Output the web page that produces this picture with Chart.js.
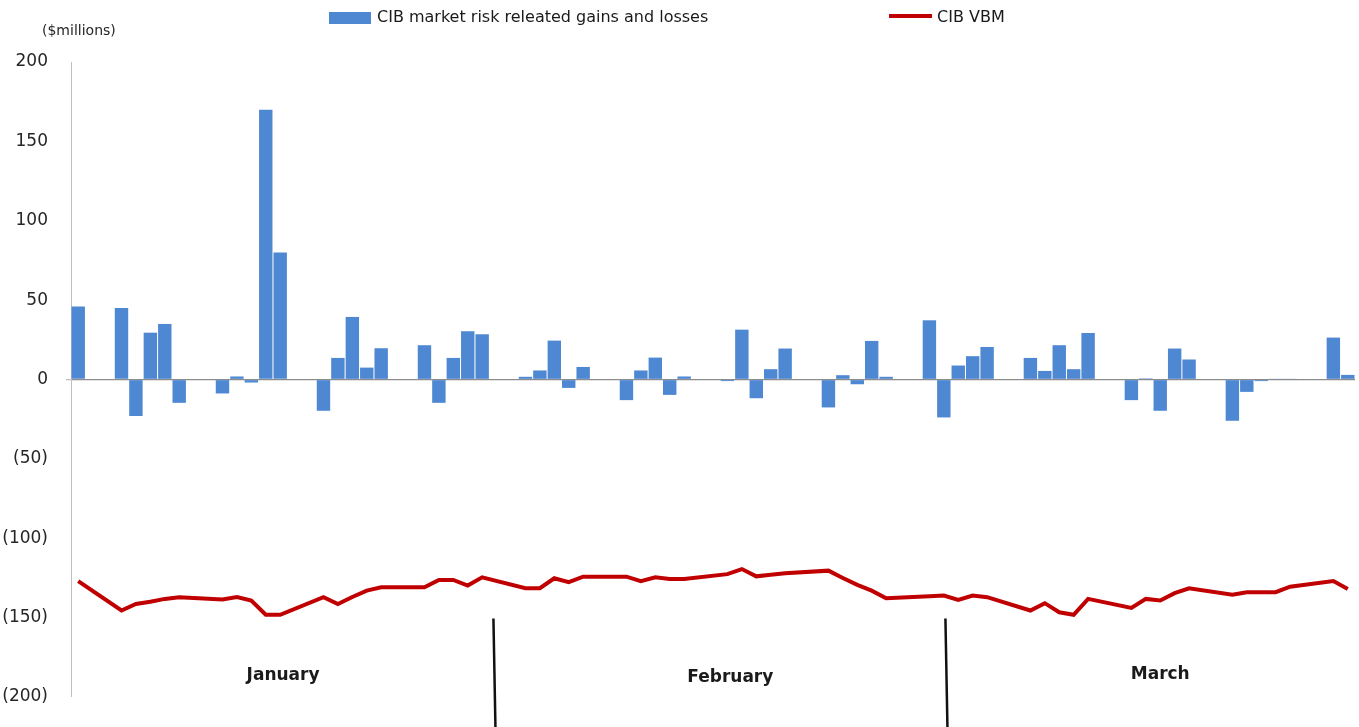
<!DOCTYPE html>
<html>
<head>
<meta charset="utf-8">
<script src="https://cdn.jsdelivr.net/npm/chart.js@4.4.1/dist/chart.umd.min.js"></script>
<style>
  html, body { margin: 0; padding: 0; background: #fff; }
  #wrap { width: 1359px; height: 727px; }
</style>
</head>
<body>
<div id="wrap"><canvas id="c" width="1359" height="727"></canvas></div>
<script>
// ---------- DATA ----------
const months = ['January', 'February', 'March'];
const monthDays = [31, 28, 30];
const categories = [];
months.forEach((m, i) => { for (let d = 1; d <= monthDays[i]; d++) categories.push(m.slice(0, 3) + ' ' + d); });

// CIB market risk related gains and losses ($ millions); null = non-trading day
const gainsLosses = [
  46,
  null, null, 45, -23, 29.5, 35, -14.7,
  null, null, -8.8, 1.9, -1.9, 170, 80,
  null, null, -19.7, 13.6, 39.4, 7.5, 19.7,
  null, null, 21.6, -14.7, 13.6, 30.4, 28.5,
  null, null, 1.7, 5.7, 24.5, -5.3, 7.9,
  null, null, -13, 5.7, 13.8, -9.7, 1.9,
  null, null, -1, 31.4, -11.8, 6.5, 19.5,
  null, null, -17.6, 2.7, -3, 24.3, 1.7,
  null, null, 37.3, -23.9, 8.8, 14.7, 20.5,
  null, null, 13.6, 5.4, 21.6, 6.5, 29.3,
  null, null, -13, 0.7, -19.7, 19.5, 12.6,
  null, null, -26, -7.8, -1, 0.5, 0.5,
  null, null, 26.4, 2.9
];

// CIB VBM ($ millions)
const vbm = [
  -127,
  null, null, -145.5, -141.4, -140, -138.2, -137.1,
  null, null, -138.6, -137.1, -139.2, -148.2, -148.2,
  null, null, -137.1, -141.4, -137, -133, -130.9,
  null, null, -130.9, -126.3, -126.3, -129.8, -124.6,
  null, null, -131.5, -131.5, -125.2, -127.7, -124.2,
  null, null, -124.2, -127, -124.6, -125.6, -125.6,
  null, null, -122.6, -119.4, -124, -123, -122,
  null, null, -120.4, -125, -129.4, -133, -137.8,
  null, null, -136.5, -136.1, -138.8, -136.1, -137.1,
  null, null, -145.5, -140.9, -146.6, -148.2, -138.2,
  null, null, -143.9, -138.2, -139.2, -134.6, -131.5,
  null, null, -135.5, -134, -134, -134, -130.5,
  null, null, -127, -131.9
];

const yTicks = [-200, -150, -100, -50, 0, 50, 100, 150, 200];
const unitLabel = '($millions)';

// ---------- STYLE ----------
const FONT = '"DejaVu Sans", "Liberation Sans", sans-serif';
const BAR_COLOR = '#4F88D2';
const LINE_COLOR = '#C00000';

const decorations = {
  id: 'decorations',
  afterDraw(chart, args, opts) {
    const { ctx, scales: { x, y } } = chart;
    ctx.save();
    // month dividers
    ctx.strokeStyle = '#111';
    ctx.lineWidth = 2.5;
    opts.dividers.forEach(d => {
      const px = x.getPixelForValue(d);
      ctx.beginPath();
      ctx.moveTo(px - 1, y.getPixelForValue(opts.dividerTop));
      ctx.lineTo(px + 1, chart.height);
      ctx.stroke();
    });
    // month labels
    ctx.fillStyle = '#1a1a1a';
    ctx.font = 'bold 17px ' + FONT;
    ctx.textAlign = 'center';
    ctx.textBaseline = 'middle';
    months.forEach((m, i) => {
      ctx.fillText(m, x.getPixelForValue(opts.monthCenters[i]), y.getPixelForValue(opts.monthLabelY[i]));
    });
    // unit label
    ctx.font = '14px ' + FONT;
    ctx.textAlign = 'left';
    ctx.fillStyle = '#262626';
    ctx.fillText(unitLabel, 42, 31);
    // legend
    const ds = chart.data.datasets;
    ctx.font = '16px ' + FONT;
    ctx.fillStyle = BAR_COLOR;
    ctx.fillRect(329, 12, 42, 12);
    ctx.fillStyle = '#1a1a1a';
    ctx.fillText(ds[1].label, 377, 18);
    ctx.strokeStyle = LINE_COLOR;
    ctx.lineWidth = 4;
    ctx.beginPath();
    ctx.moveTo(889, 16);
    ctx.lineTo(932, 16);
    ctx.stroke();
    ctx.fillText(ds[0].label, 937, 18);
    ctx.restore();
  }
};

new Chart(document.getElementById('c'), {
  data: {
    labels: categories,
    datasets: [
      {
        type: 'line',
        label: 'CIB VBM',
        data: vbm,
        borderColor: LINE_COLOR,
        borderWidth: 4,
        pointRadius: 0,
        tension: 0,
        spanGaps: true,
        order: 0
      },
      {
        type: 'bar',
        label: 'CIB market risk releated gains and losses',
        data: gainsLosses,
        backgroundColor: BAR_COLOR,
        categoryPercentage: 1.0,
        barPercentage: 0.93,
        order: 1
      }
    ]
  },
  options: {
    responsive: false,
    animation: false,
    layout: { padding: { left: 0, right: 4, top: 62, bottom: 30 } },
    plugins: {
      legend: { display: false },
      tooltip: { enabled: false },
      decorations: {
        dividers: [28.85, 60.18],
        dividerTop: -150.5,
        monthCenters: [14.2, 45.2, 75.0],
        monthLabelY: [-186.5, -187.5, -186]
      }
    },
    scales: {
      x: { display: false },
      y: {
        min: -200,
        max: 200,
        afterBuildTicks: s => { s.ticks = yTicks.map(v => ({ value: v })); },
        afterFit: s => { s.width = 71; },
        border: { display: true, color: '#BFBFBF', width: 1 },
        grid: {
          drawOnChartArea: true,
          color: c => (c.tick && c.tick.value === 0) ? '#8C8C8C' : 'rgba(0,0,0,0)',
          lineWidth: c => (c.tick && c.tick.value === 0) ? 1.3 : 0,
          tickColor: '#BFBFBF',
          tickLength: 5,
          drawTicks: true
        },
        ticks: {
          padding: 18,
          color: '#262626',
          font: { family: FONT, size: 17 },
          callback: v => v < 0 ? '(' + Math.abs(v) + ')' : String(v)
        }
      }
    }
  },
  plugins: [decorations]
});
</script>
</body>
</html>
